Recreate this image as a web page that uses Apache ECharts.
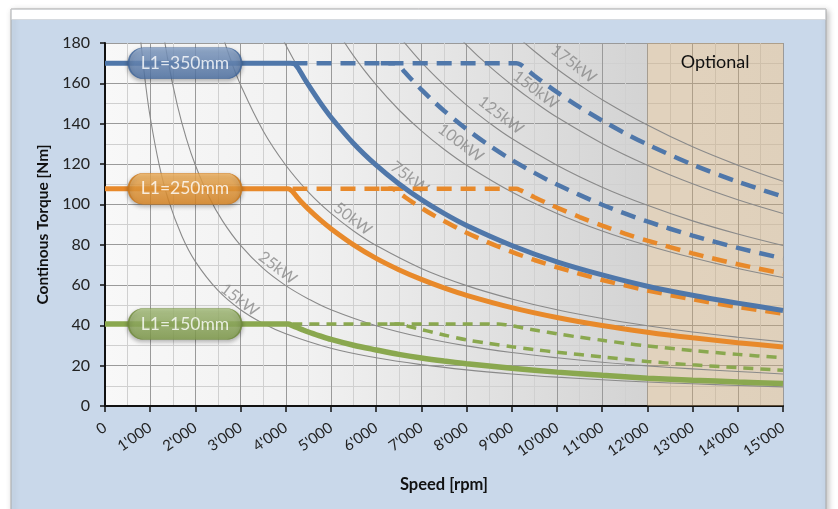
<!DOCTYPE html>
<html>
<head>
<meta charset="utf-8">
<script src="https://cdn.jsdelivr.net/npm/echarts@6/dist/echarts.min.js"></script>
<style>
html,body{margin:0;padding:0;background:#fff;}
#c{width:838px;height:509px;}
</style>
</head>
<body>
<div id="c"></div>
<script>
// ---- Data ----
const xTicks = [0,1000,2000,3000,4000,5000,6000,7000,8000,9000,10000,11000,12000,13000,14000,15000];
const yTicks = [0,20,40,60,80,100,120,140,160,180];

// iso-power guide curves [speed rpm, torque Nm]
const p15  = [[750,191],[800,179],[900,159.2],[1000,143.2],[1200,119.4],[1400,102.3],[1700,84.3],[2000,71.6],[2500,57.3],[3000,47.7],[3500,40.9],[4000,35.8],[5000,28.6],[6000,23.9],[7000,20.5],[8000,17.9],[9000,15.9],[10000,14.3],[11000,13.0],[12000,11.9],[13000,11.0],[14000,10.2],[15000,9.5]];
const p25  = [[1250,191],[1400,170.5],[1600,149.2],[1800,132.6],[2000,119.4],[2300,103.8],[2600,91.8],[3000,79.6],[3500,68.2],[4000,59.7],[4500,53.1],[5000,47.7],[6000,39.8],[7000,34.1],[8000,29.8],[9000,26.5],[10000,23.9],[11000,21.7],[12000,19.9],[13000,18.4],[14000,17.1],[15000,15.9]];
const p50  = [[2500,191],[2750,173.6],[3000,159.2],[3500,136.4],[4000,119.4],[4500,106.1],[5000,95.5],[5500,86.8],[6000,79.6],[7000,68.2],[8000,59.7],[9000,53.1],[10000,47.7],[11000,43.4],[12000,39.8],[13000,36.7],[14000,34.1],[15000,31.8]];
const p75  = [[3750,191],[4000,179],[4500,159.2],[5000,143.2],[5500,130.2],[6000,119.4],[6500,110.2],[7000,102.3],[8000,89.5],[9000,79.6],[10000,71.6],[11000,65.1],[12000,59.7],[13000,55.1],[14000,51.2],[15000,47.7]];
const p100 = [[5000,191],[5500,173.6],[6000,159.2],[6500,146.9],[7000,136.4],[7500,127.3],[8000,119.4],[9000,106.1],[10000,95.5],[11000,86.8],[12000,79.6],[13000,73.5],[14000,68.2],[15000,63.7]];
const p125 = [[6250,191],[6500,183.6],[7000,170.5],[7500,159.2],[8000,149.2],[8500,140.4],[9000,132.6],[10000,119.4],[11000,108.5],[12000,99.5],[13000,91.8],[14000,85.3],[15000,79.6]];
const p150 = [[7500,191],[8000,179],[8500,168.5],[9000,159.2],[9500,150.8],[10000,143.2],[11000,130.2],[12000,119.4],[13000,110.2],[14000,102.3],[15000,95.5]];
const p175 = [[8750,191],[9000,185.7],[9500,175.9],[10000,167.1],[10500,159.2],[11000,151.9],[12000,139.3],[13000,128.5],[14000,119.4],[15000,111.4]];

const powerLabelNames   = ['15kW','25kW','50kW','75kW','100kW','125kW','150kW','175kW'];
const powerLabelSpeeds  = [2980,3821,5480,6740,7870,8758,9528,10367];
const powerLabelTorques = [52.6,68.5,92.8,113.2,130.5,144.2,156.8,169.7];

// L1 = 350 mm (blue)
const blueSolid = [[0,170],[3900,170],[4100,170],[4200,169.6],[4300,166.6],[4400,162.8],[4500,159.2],[4750,150.8],[5000,143.2],[5500,130.2],[6000,119.4],[6500,110.2],[7000,102.3],[7500,95.5],[8000,89.5],[9000,79.6],[10000,71.5],[11000,65],[12000,59.4],[13000,54.9],[14000,51],[15000,47.4]];
const blueDashA = [[4150,170],[8800,170],[9100,170],[9200,169.2],[9300,167.4],[9400,165.6],[9500,163.8],[9750,159.6],[10000,155.6],[10500,148.2],[11000,141.5],[11500,135.3],[12000,129.7],[13000,119.7],[14000,111.2],[15000,103.8]];
const blueDashB = [[6100,170],[6400,170],[6500,168.9],[6600,166.4],[6700,163.9],[6800,161.5],[7000,156.9],[7250,151.5],[7500,146.4],[8000,137.3],[8500,129.2],[9000,122],[9500,115.6],[10000,109.8],[11000,99.8],[12000,91.5],[13000,84.5],[14000,78.4],[15000,73.2]];
// L1 = 250 mm (orange)
const orangeSolid = [[0,107.7],[3900,107.7],[4050,107.7],[4150,106.3],[4250,103.6],[4350,101],[4500,97.6],[4750,92.5],[5000,87.9],[5500,79.9],[6000,73.2],[6500,67.6],[7000,62.8],[7500,58.6],[8000,54.9],[9000,48.8],[10000,43.9],[11000,39.9],[12000,36.6],[13000,33.8],[14000,31.4],[15000,29.3]];
const orangeDashA = [[4150,107.7],[8800,107.7],[9100,107.7],[9200,106.9],[9300,105.8],[9400,104.6],[9500,103.5],[9750,100.9],[10000,98.4],[10500,93.7],[11000,89.4],[11500,85.5],[12000,82],[13000,75.7],[14000,70.3],[15000,65.6]];
const orangeDashB = [[6100,107.7],[6350,107.7],[6450,106.6],[6550,105],[6650,103.4],[6800,101.1],[7000,98.2],[7250,94.8],[7500,91.7],[8000,85.9],[8500,80.9],[9000,76.4],[9500,72.4],[10000,68.8],[11000,62.5],[12000,57.3],[13000,52.9],[14000,49.1],[15000,45.8]];
// L1 = 150 mm (green)
const greenSolid = [[0,40.7],[3900,40.7],[4050,40.7],[4150,39.8],[4250,38.9],[4350,38],[4500,36.7],[4750,34.8],[5000,33.0],[5500,30.1],[6000,27.8],[6500,25.6],[7000,23.8],[7500,22.3],[8000,21],[9000,18.7],[10000,16.8],[11000,15.2],[12000,13.8],[13000,12.8],[14000,11.9],[15000,11.1]];
const greenDashA = [[4150,40.7],[8700,40.7],[8900,40.2],[9000,39.8],[9100,39.4],[9200,38.9],[9400,38.1],[9600,37.3],[10000,35.8],[10500,34.1],[11000,32.6],[11500,31.1],[12000,29.8],[13000,27.5],[14000,25.6],[15000,23.9]];
const greenDashB = [[6300,40.7],[6500,40.7],[6600,40.2],[6700,39.6],[6800,39],[7000,37.9],[7250,36.6],[7500,35.2],[8000,32.8],[8500,31],[9000,29.4],[9500,28],[10000,26.7],[11000,24.3],[12000,22.1],[13000,20.4],[14000,19],[15000,17.7]];

const pillNames   = ['L1=350mm','L1=250mm','L1=150mm'];
const pillSpeeds  = [1770,1770,1770];
const pillTorques = [170,107.7,40.7];

const optionalRange = [12000,15000];
const optionalText = 'Optional';

// ---- Chart ----
const FONT = 'Lato, "Open Sans", sans-serif';
const chart = echarts.init(document.getElementById('c'), null, {renderer:'canvas'});
const G = echarts.graphic;
const fmt = v => String(v).replace(/\B(?=(\d{3})+(?!\d))/g, "'");

const BLUE = '#4f77aa', ORANGE = '#e8892a', GREEN = '#8aa84f', GRAYLINE = '#8a8a8a';

function guide(data){
  return {type:'line', data, smooth:0.4, showSymbol:false, symbol:'none', silent:true, z:3,
    lineStyle:{color:GRAYLINE, width:1.1}};
}
function colored(data, color, dashed, width){
  return {type:'line', data, smooth:0.3, showSymbol:false, symbol:'none', silent:true, z:5,
    lineStyle:{color, width, type: dashed ? dashed : 'solid', cap:'butt'}};
}
function pillPath(){ return 'path://M15,0 H98 A15,15 0 0 1 98,30 H15 A15,15 0 0 1 15,0 Z'; }
function pill(i, top, bottom, border){
  return {type:'scatter', z:8, silent:true,
    data:[[pillSpeeds[i], pillTorques[i], pillNames[i]]],
    symbol: pillPath(), symbolSize:[113,31], symbolKeepAspect:false,
    itemStyle:{color:new G.LinearGradient(0,0,0,1,[{offset:0,color:top},{offset:1,color:bottom}]),
      borderColor:border, borderWidth:1, shadowBlur:4, shadowColor:'rgba(0,0,0,0.35)', shadowOffsetY:2},
    label:{show:true, position:'inside', formatter:p=>p.value[2], color:'#fff', fontSize:17.5, fontFamily:FONT}
  };
}

const powerLabelData = powerLabelNames.map((n,i)=>[powerLabelSpeeds[i], powerLabelTorques[i], n]);

const option = {
  animation:false,
  backgroundColor:'#ffffff',
  graphic:[
    {type:'rect', z:-10, shape:{x:11,y:9,width:815,height:520},
      style:{fill:'#c9d8ea', stroke:'#a9a9a9', lineWidth:1, shadowBlur:6, shadowColor:'rgba(0,0,0,0.25)', shadowOffsetX:2, shadowOffsetY:2}},
    {type:'rect', z:-9, shape:{x:11.5,y:9.5,width:814,height:10}, style:{fill:'#ffffff', stroke:'#c8c8c8', lineWidth:0.5}}
  ],
  grid:{left:105, right:55, top:43, bottom:103, show:true, borderWidth:0,
    backgroundColor:new G.LinearGradient(0,0,1,0,[
      {offset:0,color:'#f8f8f8'},{offset:0.3,color:'#f1f1f1'},{offset:0.8,color:'#d3d3d3'},
      {offset:0.8,color:'#efefef'},{offset:1,color:'#ececec'}])},
  xAxis:{type:'value', min:0, max:15000, interval:1000,
    name:'Speed [rpm]', nameLocation:'middle', nameGap:70,
    nameTextStyle:{fontFamily:FONT, fontWeight:'bold', fontSize:16.5, color:'#111'},
    axisLine:{show:true, onZero:false, lineStyle:{color:'#111', width:2}},
    axisTick:{show:true, length:6, lineStyle:{color:'#111', width:1.5}},
    axisLabel:{rotate:35, margin:20, fontSize:15, color:'#222', fontFamily:FONT, formatter:fmt, showMaxLabel:true, showMinLabel:true},
    splitLine:{show:true, lineStyle:{color:'#9a9a9a', width:1}},
    minorTick:{show:false, splitNumber:2},
    minorSplitLine:{show:true, lineStyle:{color:'#d0d0d0', width:1}}
  },
  yAxis:{type:'value', min:0, max:180, interval:20,
    name:'Continous Torque [Nm]', nameLocation:'middle', nameGap:52,
    nameTextStyle:{fontFamily:FONT, fontWeight:'bold', fontSize:15.5, color:'#111'},
    axisLine:{show:true, onZero:false, lineStyle:{color:'#111', width:2}},
    axisTick:{show:true, length:5, lineStyle:{color:'#111', width:1.5}},
    axisLabel:{fontSize:16, color:'#222', fontFamily:FONT, margin:15},
    splitLine:{show:true, lineStyle:{color:'#9a9a9a', width:1}},
    minorTick:{show:false, splitNumber:2},
    minorSplitLine:{show:true, lineStyle:{color:'#d0d0d0', width:1}}
  },
  series:[
    guide(p15), guide(p25), guide(p50), guide(p75), guide(p100), guide(p125), guide(p150), guide(p175),
    {type:'scatter', z:4, silent:true, data:powerLabelData, symbolSize:1, itemStyle:{color:'rgba(0,0,0,0)'},
      label:{show:true, position:'inside', rotate:-37, formatter:p=>p.value[2], color:'#8a8a8a', fontSize:16, fontFamily:FONT}},
    colored(greenDashA, GREEN, [10,7], 3.5),
    colored(greenDashB, GREEN, [10,7], 3.5),
    colored(greenSolid, GREEN, null, 5.5),
    colored(orangeDashA, ORANGE, [15,9], 4.5),
    colored(orangeDashB, ORANGE, [15,9], 4.5),
    colored(orangeSolid, ORANGE, null, 5),
    colored(blueDashA, BLUE, [15,9], 4.5),
    colored(blueDashB, BLUE, [15,9], 4.5),
    colored(blueSolid, BLUE, null, 5),
    {type:'line', data:[[optionalRange[0],0]], symbol:'none', showSymbol:false, silent:true, z:7,
      lineStyle:{width:0},
      markArea:{silent:true, itemStyle:{color:'rgba(205,168,115,0.40)'},
        label:{show:true, position:'insideTop', distance:10, color:'#111', fontSize:18, fontFamily:FONT},
        data:[[{name:optionalText, xAxis:optionalRange[0], yAxis:0},{xAxis:optionalRange[1], yAxis:180}]]}
    },
    pill(0,'#86a2ca','#4d72a6','#41669a'),
    pill(1,'#f3b25a','#de861f','#c9771a'),
    pill(2,'#a9c27d','#7f9c48','#6f8a3c')
  ]
};
chart.setOption(option);
</script>
</body>
</html>
